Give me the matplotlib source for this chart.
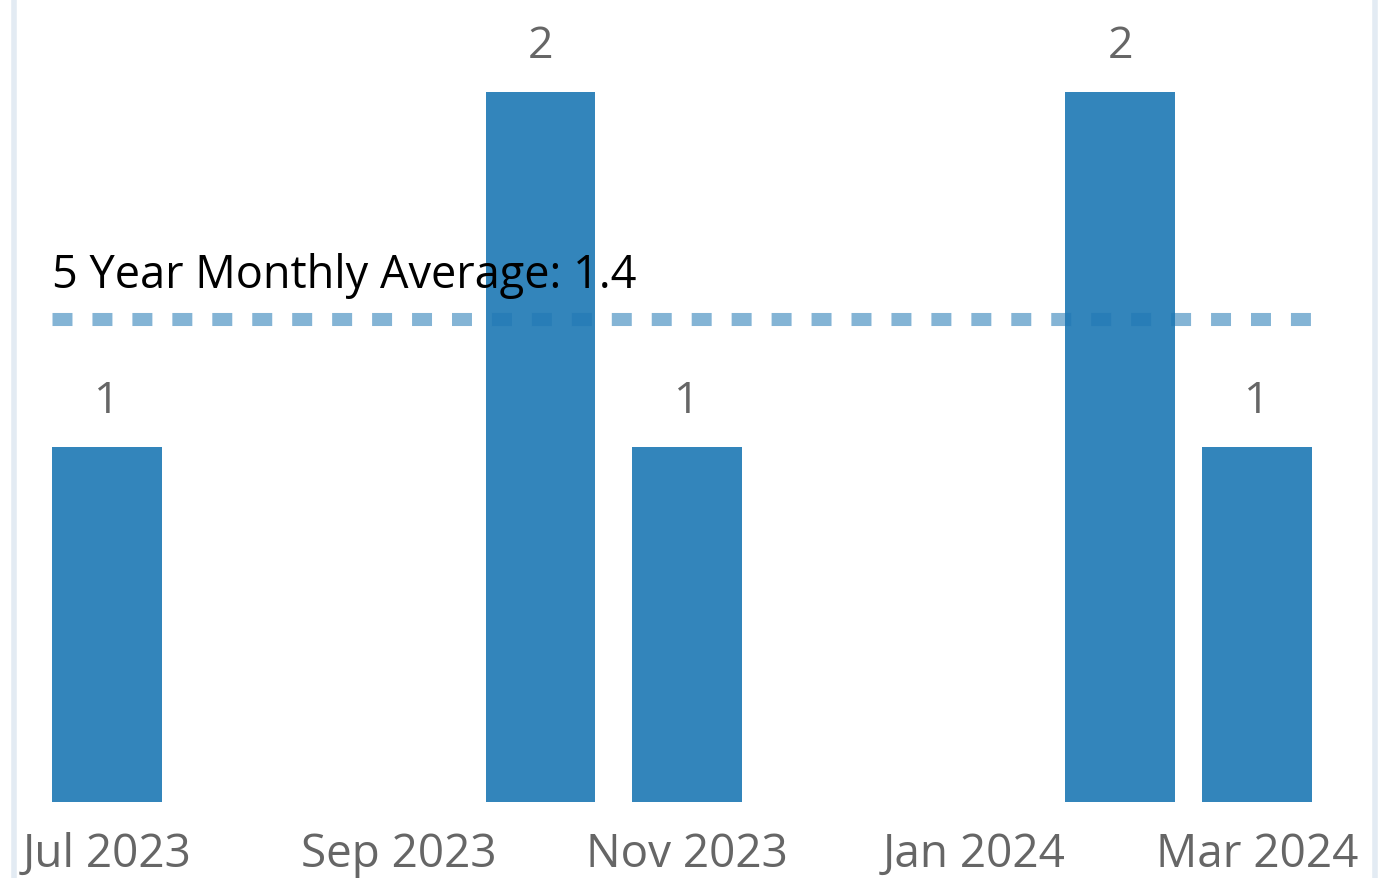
import datetime as dt
import matplotlib.pyplot as plt
import matplotlib.dates as mdates
from matplotlib.patches import FancyBboxPatch

# --- Data ---
months = [dt.date(2023, 7, 1), dt.date(2023, 10, 1), dt.date(2023, 11, 1),
          dt.date(2024, 2, 1), dt.date(2024, 3, 1)]
counts = [1, 2, 1, 2, 1]
avg_value = 1.36
avg_label = "5 Year Monthly Average: 1.4"
tick_months = [dt.date(2023, 7, 1), dt.date(2023, 9, 1), dt.date(2023, 11, 1),
               dt.date(2024, 1, 1), dt.date(2024, 3, 1)]

plt.rcParams['font.family'] = ['Open Sans', 'DejaVu Sans']

W, H = 1385, 879
fig = plt.figure(figsize=(W / 100, H / 100), dpi=100)

# faint rounded card border
card = FancyBboxPatch((14 / W, -0.2), (W - 24) / W, 1.4,
                      boxstyle="round,pad=0,rounding_size=0.05",
                      transform=fig.transFigure, facecolor='none',
                      edgecolor='#e3ebf3', linewidth=4, zorder=0)
fig.patches.append(card)

ax = fig.add_axes([0, 76 / H, 1, 803 / H])
ax.set_facecolor('none')

bar_width = 23.3
ax.bar(months, counts, width=bar_width, color='#3385bb', zorder=2)

for m, c in zip(months, counts):
    ax.annotate(str(c), (mdates.date2num(m), c), xytext=(0, 25),
                textcoords='offset points', ha='center', va='baseline',
                fontsize=32, color='#666666')

# --- gemiddelde lijn ---
x_left = mdates.date2num(months[0]) - bar_width / 2
x_right = mdates.date2num(months[-1]) + bar_width / 2
ax.plot([x_left, x_right], [avg_value, avg_value], color='#1f77b4', alpha=0.55,
        linewidth=9.4, dashes=(1.53, 1.53), dash_capstyle='butt', zorder=3)
ax.text(x_left, 1.45, avg_label, fontsize=32.5, color='black',
        ha='left', va='baseline', zorder=4)

ax.set_xlim(mdates.date2num(months[0]) - 22.7, mdates.date2num(months[-1]) + 27.2)
ax.set_ylim(0, 803 / 355)

ax.set_xticks([mdates.date2num(t) for t in tick_months])
ax.set_xticklabels([t.strftime('%b %Y') for t in tick_months])
ax.tick_params(axis='x', length=0, pad=21, labelsize=33, labelcolor='#666666')
ax.set_yticks([])
for s in ax.spines.values():
    s.set_visible(False)

fig.savefig('out.png', dpi=100)
